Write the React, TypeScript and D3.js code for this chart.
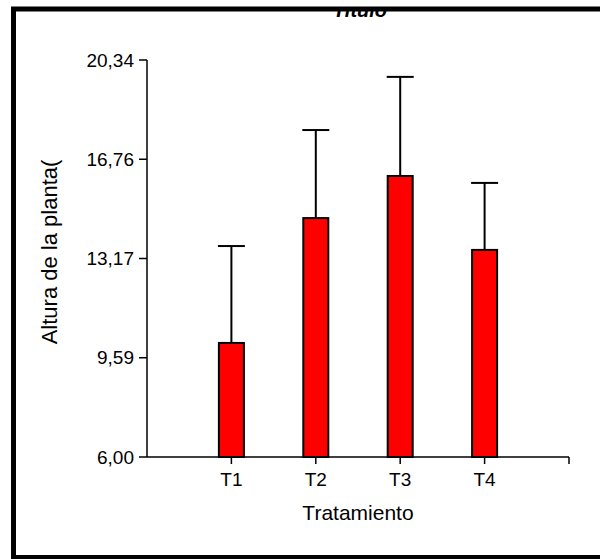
import React from "react";
import * as d3 from "d3";

const categories = ["T1", "T2", "T3", "T4"];
const means = [10.12, 14.63, 16.15, 13.48];
const errors = [3.5, 3.18, 3.58, 2.42];
const yTicks = [6.0, 9.585, 13.17, 16.755, 20.34];
const yTickLabels = ["6,00", "9,59", "13,17", "16,76", "20,34"];

const W = 600;
const H = 559;

const App = () => {
  const x = d3.scaleLinear().domain([0, 5]).range([147, 569]);
  const y = d3.scaleLinear().domain([6, 20.34]).range([457, 60]);
  const barW = 25;
  const capW = 27;
  const font = "'Liberation Sans', Arial, sans-serif";

  return (
    <svg width={W} height={H} style={{ position: "absolute", left: 0, top: 0, background: "#fff" }}>
      <defs>
        <clipPath id="titleClip">
          <rect x={0} y={10} width={W} height={20} />
        </clipPath>
      </defs>
      {/* title, cut by the frame */}
      <text x={360} y={17} textAnchor="middle" fontFamily={font} fontSize={20} fontWeight="bold" fontStyle="italic"
        clipPath="url(#titleClip)">Titulo</text>

      {/* error bars */}
      {categories.map((c, i) => {
        const cx = x(i + 1);
        return (
          <g key={"e" + c} stroke="#000" strokeWidth={2}>
            <line x1={cx} x2={cx} y1={y(means[i])} y2={y(means[i] + errors[i])} />
            <line x1={cx - capW / 2} x2={cx + capW / 2} y1={y(means[i] + errors[i])} y2={y(means[i] + errors[i])} />
          </g>
        );
      })}

      {/* bars */}
      {categories.map((c, i) => (
        <rect key={"b" + c} x={x(i + 1) - barW / 2} y={y(means[i])} width={barW} height={y(6) - y(means[i])}
          fill="#ff0000" stroke="#000" strokeWidth={2} />
      ))}

      {/* y axis */}
      <line x1={147} x2={147} y1={y(20.34)} y2={y(6)} stroke="#000" strokeWidth={1.5} />
      {yTicks.map((t, i) => (
        <g key={"yt" + i}>
          <line x1={139} x2={147} y1={y(t)} y2={y(t)} stroke="#000" strokeWidth={1.5} />
          <text x={134} y={y(t)} dy="0.35em" textAnchor="end" fontFamily={font} fontSize={19}>{yTickLabels[i]}</text>
        </g>
      ))}

      {/* x axis */}
      <line x1={x(0)} x2={x(5)} y1={457} y2={457} stroke="#000" strokeWidth={1.5} />
      {categories.map((c, i) => (
        <g key={"xt" + c}>
          <line x1={x(i + 1)} x2={x(i + 1)} y1={457} y2={464} stroke="#000" strokeWidth={1.5} />
          <text x={x(i + 1)} y={486} textAnchor="middle" fontFamily={font} fontSize={19}>{c}</text>
        </g>
      ))}
      <line x1={x(5)} x2={x(5)} y1={457} y2={464} stroke="#000" strokeWidth={1.5} />

      {/* axis titles */}
      <text x={358} y={520} textAnchor="middle" fontFamily={font} fontSize={21}>Tratamiento</text>
      <text transform={`translate(57,252) rotate(-90)`} textAnchor="middle" fontFamily={font} fontSize={22}>Altura de la planta(</text>

      {/* frame */}
      <rect x={13.5} y={9} width={700} height={548.5} fill="none" stroke="#000" strokeWidth={5} />
    </svg>
  );
};

export default App;
